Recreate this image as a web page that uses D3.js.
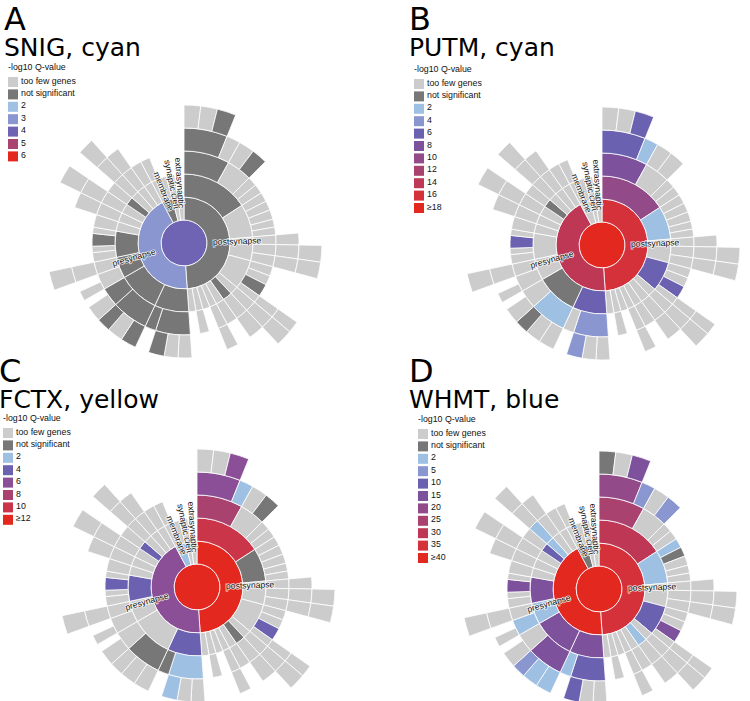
<!DOCTYPE html>
<html lang="en">
<head>
<meta charset="UTF-8">
<title>SynGO sunbursts</title>
<script src="https://d3js.org/d3.v7.min.js"></script>
<style>
  body { margin: 0; background: #fff; }
  .letter, .title { font-family: "DejaVu Sans", sans-serif; fill: #000; }
  .leg { font-family: "Liberation Sans", Arial, sans-serif; font-size: 8.8px; fill: #111; }
  .lab { font-family: "Liberation Sans", Arial, sans-serif; font-size: 8.6px; fill: #111;
         stroke: #fff; stroke-width: 1.6px; stroke-opacity: 0.85; paint-order: stroke; }
</style>
</head>
<body>
<script>
// SynGO cellular component tree: [id, own size, children]; sizes are shares of the circle
var tree = ["synapse", 0, [
  ["postsynapse", 0, [
    ["P1", 0, [
      ["P1a", 0, [
        ["P1a1", 0, [["P1a1a", 7], ["P1a1b", 7], ["P1a1c", 8]]],
        ["P1a2", 7]
      ]],
      ["P1b", 0, [["P1b1", 8], ["P1b2", 8]]],
      ["P1c", 6],
      ["P1d", 6]
    ]],
    ["P2", 0, [["P2a", 6], ["P2b", 6], ["P2c", 6], ["P2d", 5], ["P2e", 5]]],
    ["P3", 0, [
      ["P3a", 0, [["P3a1", 6]]],
      ["P3b", 0, [["P3b1", 0, [["P3b1a", 7]]]]],
      ["P3c", 0, [["P3c1", 0, [["P3c1a", 7]]]]]
    ]],
    ["P4", 0, [
      ["P4a", 6], ["P4b", 6], ["P4c", 8],
      ["P4d", 0, [["P4d1", 0, [["P4d1a", 5]]]]]
    ]],
    ["T1", 0, [["T1a", 0, [["T1a1", 0, [["T1a1a", 7]]]]]]],
    ["T2", 0, [["T2a", 0, [["T2a1", 8]]]]],
    ["T3", 0, [["T3a", 7]]],
    ["T4", 0, [["T4a", 0, [["T4a1", 6]]]]],
    ["T5", 6],
    ["T6", 0, [["T6a", 6]]],
    ["T7", 6]
  ]],
  ["presynapse", 0, [
    ["Q1", 0, [
      ["Q1a", 0, [["Q1a1", 7], ["Q1a2", 7], ["Q1a3", 8]]],
      ["Q1b", 7]
    ]],
    ["Q2", 0, [
      ["Q2a", 0, [["Q2a1", 8], ["Q2a2", 8], ["Q2a3", 7]]],
      ["Q2b", 4, [["Q2b1", 8]]]
    ]],
    ["Q3", 0, [
      ["Q3a", 5, [["Q3a1", 5]]],
      ["Q3b", 0, [["Q3b1", 0, [["Q3b1a", 8]]]]]
    ]],
    ["Q4", 0, [["Q4a", 6], ["Q4b", 4], ["Q4c", 8], ["Q4d", 4]]],
    ["Q5", 0, [["Q5a", 8]]],
    ["Q6", 0, [["Q6a", 0, [["Q6a1", 8]]]]],
    ["Q7", 0, [["Q7a", 0, [["Q7a1", 0, [["Q7a1a", 8]]]]]]],
    ["Q8", 0, [["Q8a", 7]]],
    ["Q9", 0, [["Q9a", 0, [["Q9a1", 0, [["Q9a1a", 7]]]]]]],
    ["Q10", 0, [["Q10a", 0, [["Q10a1", 7]]]]],
    ["Q11", 0, [["Q11a", 7]]]
  ]],
  ["membrane", 0, [["M1", 0, [["M1a", 6]]], ["M2", 7]]],
  ["synaptic cleft", 0, [["C1", 7]]],
  ["extrasynaptic", 8]
]];

// significance class per term: level index into the panel legend, "n" = not significant
// (terms not listed = too few genes)
var snigLevels = [["synapse", 2], ["presynapse", 1], ["postsynapse", "n"], ["membrane", "n"],
  ["P1", "n"], ["P1a", "n"], ["P1a1", "n"], ["P1a1c", "n"], ["P1b2", "n"], ["P4c", "n"], ["T2", "n"],
  ["Q1", "n"], ["Q1a", "n"], ["Q1a3", "n"], ["Q1b", "n"], ["Q2", "n"], ["Q2a", "n"], ["Q2a1", "n"],
  ["Q2a3", "n"], ["Q2b", "n"], ["Q3", "n"], ["Q4", "n"], ["Q4c", "n"], ["Q8", "n"]];
var putmLevels = [["synapse", 8], ["presynapse", 6], ["postsynapse", 7],
  ["P1", 4], ["P1a", 3], ["P1a1", 2], ["P1a1c", 2], ["P1a2", 0], ["P2", 0], ["P4", 2], ["P4c", 2],
  ["Q1", 2], ["Q1a", 1], ["Q1a3", 1], ["Q2", "n"], ["Q2a", 0], ["Q2a3", "n"], ["Q4c", 2], ["Q8", "n"]];
var fctxLevels = [["synapse", 5], ["presynapse", 2], ["postsynapse", 5], ["membrane", 0],
  ["P1", 4], ["P1a", 3], ["P1a1", 2], ["P1a1c", 2], ["P1a2", 0], ["P1b2", "n"], ["P2", "n"], ["P4c", 1],
  ["T2", "n"], ["Q1", 1], ["Q1a", 0], ["Q1a3", 0], ["Q1b", "n"], ["Q2a", "n"], ["Q4", 1], ["Q4c", 1], ["Q8", 1]];
var whmtLevels = [["synapse", 8], ["presynapse", 8], ["postsynapse", 7], ["membrane", "n"],
  ["P1", 6], ["P1a", 5], ["P1a1", 4], ["P1a1a", "n"], ["P1a1c", 3], ["P1a2", 1], ["P1b2", 1],
  ["P2", 0], ["P2a", 0], ["P2b", "n"], ["P4", 2], ["P4c", 3], ["T2", 0],
  ["Q1", 3], ["Q1a", 2], ["Q1a3", 2], ["Q1b", 0], ["Q2", 3], ["Q2a", 3], ["Q2a1", 0], ["Q2a2", 0],
  ["Q2a3", 1], ["Q3", 0], ["Q3a", 0], ["Q4", 3], ["Q4c", 3], ["Q8", 2], ["Q9", 0], ["Q9a", 0]];

var snigTicks = ["2", "3", "4", "5", "6"];
var putmTicks = ["2", "4", "6", "8", "10", "12", "14", "16", "≥18"];
var fctxTicks = ["2", "4", "6", "8", "10", "≥12"];
var whmtTicks = ["2", "5", "10", "15", "20", "25", "30", "35", "≥40"];

var ringLabels = ["presynapse", "postsynapse", "membrane", "synaptic cleft", "extrasynaptic"];

// colours
var tooFew = "#cccccc", notSig = "#777777";
var pal5 = ["#9dc0e3", "#8a96d0", "#6f63b3", "#a8446f", "#e3281f"];
var pal9 = ["#9dc0e3", "#8a96d0", "#6b61b1", "#7e519c", "#924b88", "#a9426f", "#be3856", "#d4313b", "#e3281f"];
var pal6 = ["#9dc0e3", "#6b61b1", "#8a4f96", "#a9426f", "#cb3549", "#e3281f"];

var panels = [
  { letter: "A", title: "SNIG, cyan", levels: snigLevels, ticks: snigTicks, pal: pal5,
    tx: 4, ty: 0, lx: 8, ly: 0, cx: 184, cy: 243 },
  { letter: "B", title: "PUTM, cyan", levels: putmLevels, ticks: putmTicks, pal: pal9,
    tx: 409, ty: 0, lx: 414, ly: 2, cx: 602, cy: 245 },
  { letter: "C", title: "FCTX, yellow", levels: fctxLevels, ticks: fctxTicks, pal: pal6,
    tx: -1, ty: 352, lx: 3, ly: 351, cx: 197, cy: 587 },
  { letter: "D", title: "WHMT, blue", levels: whmtLevels, ticks: whmtTicks, pal: pal9,
    tx: 409, ty: 352, lx: 418, ly: 352, cx: 599, cy: 589 }
];

var width = 750, height = 701;
var svg = d3.select("body").append("svg")
  .attr("width", width)
  .attr("height", height);

var root = d3.hierarchy(tree, d => d[2]).sum(d => d[1]);
d3.partition().size([360, 6])(root);

var angle = d3.scaleLinear().domain([0, 360]).range([0, 2 * Math.PI]);
var radius = d3.scaleLinear().domain([0, 6]).range([0, 138]);

var arc = d3.arc()
  .startAngle(d => angle(d.x0))
  .endAngle(d => angle(d.x1))
  .innerRadius(d => radius(d.y0))
  .outerRadius(d => radius(d.y1));

panels.forEach(function(p) {
  var g = svg.append("g");
  var lev = new Map(p.levels);
  var fill = function(d) {
    var v = lev.get(d.data[0]);
    if (v === undefined) return tooFew;
    if (v === "n") return notSig;
    return p.pal[v];
  };

  // headings
  g.append("text").attr("class", "letter")
    .attr("x", p.tx).attr("y", p.ty + 30)
    .attr("font-size", 32).text(p.letter);
  g.append("text").attr("class", "title")
    .attr("x", p.tx).attr("y", p.ty + 56)
    .attr("font-size", 25).text(p.title);

  // legend
  var items = [{ t: "too few genes", c: tooFew }, { t: "not significant", c: notSig }]
    .concat(p.ticks.map((t, i) => ({ t: t, c: p.pal[i] })));
  g.append("text").attr("class", "leg")
    .attr("x", p.lx).attr("y", p.ly + 70).text("-log10 Q-value");
  var row = g.selectAll("g.row").data(items).enter().append("g")
    .attr("transform", (d, i) => `translate(${p.lx},${p.ly + 77 + i * 12.4})`);
  row.append("rect").attr("width", 10).attr("height", 10).attr("fill", d => d.c);
  row.append("text").attr("class", "leg").attr("x", 13).attr("y", 6.5).text(d => d.t);

  // sunburst
  var sb = g.append("g").attr("transform", `translate(${p.cx},${p.cy})`);
  sb.selectAll("path")
    .data(root.descendants())
    .enter().append("path")
    .attr("d", arc)
    .attr("fill", fill)
    .attr("stroke", "#fff")
    .attr("stroke-width", 0.8);

  // labels of the first ring
  root.children.forEach(function(d) {
    var name = d.data[0];
    if (ringLabels.indexOf(name) < 0) return;
    var mid = (d.x0 + d.x1) / 2;
    var t = sb.append("text").attr("class", "lab").text(name);
    if (name === "postsynapse") {
      t.attr("text-anchor", "start")
        .attr("transform", `rotate(${mid - 90}) translate(29,3)`);
    } else if (name === "presynapse") {
      t.attr("text-anchor", "end")
        .attr("transform", `rotate(${mid + 90}) translate(-30,3)`);
    } else {
      t.attr("text-anchor", "end")
        .attr("transform", `rotate(${mid + 90}) translate(-35,3)`);
    }
  });
});
</script>
</body>
</html>
